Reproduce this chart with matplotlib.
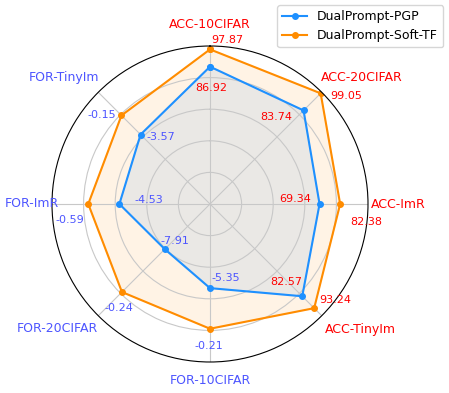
import numpy as np
import matplotlib.pyplot as plt

categories = ['ACC-10CIFAR', 'ACC-20CIFAR', 'ACC-ImR', 'ACC-TinyIm',
              'FOR-10CIFAR', 'FOR-20CIFAR', 'FOR-ImR', 'FOR-TinyIm']
pgp = [86.92, 83.74, 69.34, 82.57, -5.35, -7.91, -4.53, -3.57]
soft_tf = [97.87, 99.05, 82.38, 93.24, -0.21, -0.24, -0.59, -0.15]

# label offsets (pixels) for the value texts
pgp_off = [(1, -21), (-27, -7), (-24, 5), (-16, 14), (16, 10), (10, 8), (29, 4), (20, -2)]
soft_off = [(17, 9), (26, -3), (26, -18), (21, 8), (-1, -17), (-3, -16), (-18, -16), (-20, 0)]
# category label positions (math angle deg, radius)
cat_pos = [(90, 1.135), (39.8, 1.253), (0, 1.194), (-39.9, 1.24),
           (-90, 1.118), (-140.8, 1.249), (180, 1.127), (139.1, 1.225)]


def norm(v):
    # accuracy -> fraction, forgetting -> shifted
    return v / 100 if v > 0 else 0.8 + v / 20


blue_txt = '#4d55ff'
n = len(categories)
angles = np.linspace(0, 2 * np.pi, n, endpoint=False)

fig = plt.figure(figsize=(4.49, 3.93), dpi=100)
ax = fig.add_axes([52 / 449, 31 / 393, 316 / 449, 316 / 393], polar=True)
ax.set_theta_offset(np.pi / 2)
ax.set_theta_direction(-1)

for vals, col, lab, off in [(pgp, 'dodgerblue', 'DualPrompt-PGP', pgp_off),
                            (soft_tf, 'darkorange', 'DualPrompt-Soft-TF', soft_off)]:
    r = [norm(v) for v in vals]
    a = list(angles) + [angles[0]]
    rr = r + [r[0]]
    ax.plot(a, rr, color=col, marker='o', markersize=4, linewidth=1.5, label=lab)
    ax.fill(a, rr, color=col, alpha=0.1)
    for ang, rv, v, (dx, dy) in zip(angles, r, vals, off):
        c = 'red' if v > 0 else blue_txt
        ax.annotate(f'{v:.2f}', (ang, rv), xytext=(dx * 0.72, dy * 0.72),
                    textcoords='offset points', ha='center', va='center',
                    color=c, fontsize=8)

ax.set_ylim(0, 1)
ax.set_yticks([0.2, 0.4, 0.6, 0.8])
ax.set_yticklabels([])
ax.set_xticks(angles)
ax.set_xticklabels([])
ax.grid(color='#c8c8c8', linewidth=0.8)
ax.spines['polar'].set_color('black')
ax.spines['polar'].set_linewidth(0.8)

for name, (deg, rad) in zip(categories, cat_pos):
    x = 0.5 + 0.5 * rad * np.cos(np.radians(deg))
    y = 0.5 + 0.5 * rad * np.sin(np.radians(deg))
    ax.text(x, y, name, transform=ax.transAxes, ha='center', va='center',
            fontsize=9, color='red' if name.startswith('ACC') else blue_txt)

fig.legend(loc='upper right', bbox_to_anchor=(443 / 449, 1 - 5 / 393),
           borderaxespad=0, fontsize=9)
fig.savefig('out.png', dpi=100)
